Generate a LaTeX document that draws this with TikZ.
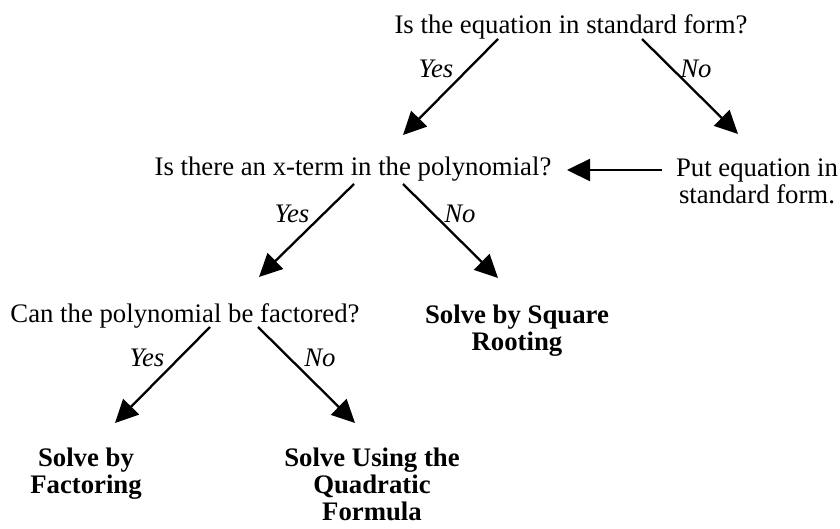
\documentclass[tikz,border=0pt]{standalone}
\usepackage{fontspec}
\setmainfont{Liberation Serif}
\usetikzlibrary{arrows.meta}
\tikzset{txt/.style={inner sep=0pt, anchor=base, align=center,
    font=\fontsize{26.75}{27}\selectfont},
    answer/.style={txt, font=\fontsize{26.75}{27}\selectfont\itshape},
    result/.style={txt, font=\fontsize{26.75}{27}\selectfont\bfseries},
    flow/.style={draw, line width=2.3pt, -{Triangle[length=23pt,width=22pt]}}}

\begin{document}
\begin{tikzpicture}[x=1pt, y=-1pt]
  \useasboundingbox (0,0) rectangle (840,529);

  % Questions and results (base = last line)
  \node[txt] (q1) at (571,34) {Is the equation in standard form?};
  \node[txt] (q2) at (353,176) {Is there an x-term in the polynomial?};
  \node[txt] (put) at (757,204) {Put equation in\\standard form.};
  \node[txt] (q3) at (185,322) {Can the polynomial be factored?};
  \node[result] (root) at (517,350) {Solve by Square\\Rooting};
  \node[result] (fact) at (86,493) {Solve by\\Factoring};
  \node[result] (quad) at (372,520) {Solve Using the\\Quadratic\\Formula};

  % Arrow ends
  \coordinate (q1-y) at (498,39);  \coordinate (q2-in) at (403,135);
  \coordinate (q1-n) at (642,39);  \coordinate (put-in) at (738,134);
  \coordinate (put-out) at (662,170); \coordinate (q2-back) at (567,170);
  \coordinate (q2-y) at (354,184); \coordinate (q3-in) at (259,277);
  \coordinate (q2-n) at (403,184); \coordinate (root-in) at (498,278);
  \coordinate (q3-y) at (210,327); \coordinate (fact-in) at (115,423);
  \coordinate (q3-n) at (258,327); \coordinate (quad-in) at (355,423);

  % Arrows
  \draw[flow] (q1-y) -- (q2-in);
  \draw[flow] (q1-n) -- (put-in);
  \draw[flow] (put-out) -- (q2-back);
  \draw[flow] (q2-y) -- (q3-in);
  \draw[flow] (q2-n) -- (root-in);
  \draw[flow] (q3-y) -- (fact-in);
  \draw[flow] (q3-n) -- (quad-in);

  % Answers
  \node[answer] (a1y) at (436,78) {Yes};
  \node[answer] (a1n) at (696,78) {No};
  \node[answer] (a2y) at (292,223) {Yes};
  \node[answer] (a2n) at (460,223) {No};
  \node[answer] (a3y) at (147,366) {Yes};
  \node[answer] (a3n) at (320,366) {No};
\end{tikzpicture}
\end{document}
